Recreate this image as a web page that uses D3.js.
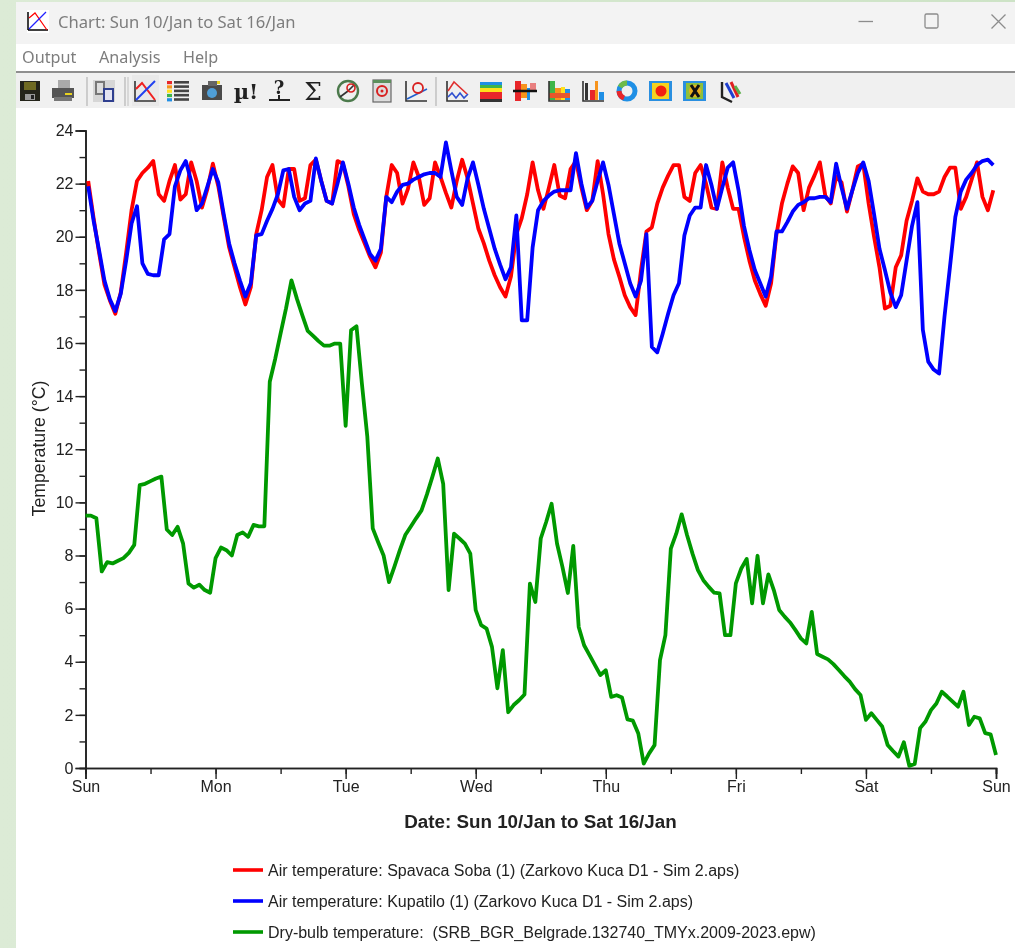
<!DOCTYPE html>
<html>
<head>
<meta charset="utf-8">
<title>Chart: Sun 10/Jan to Sat 16/Jan</title>
<script src="https://cdn.jsdelivr.net/npm/d3@7"></script>
<style>
  html, body { margin: 0; padding: 0; background: #fff; overflow: hidden; }
  svg { display: block; }
  #visualisation { filter: blur(0.55px); }
  .ui { font-family: "Noto Sans", "Open Sans", sans-serif; fill: #7d7d7d; }
  .chart-text { font-family: "Liberation Sans", Arial, sans-serif; fill: #222; }
</style>
</head>
<body>
<svg id="visualisation" width="1015" height="948"></svg>
<script>
const WIDTH = 1015
const HEIGHT = 948

const titleText = 'Chart: Sun 10/Jan to Sat 16/Jan'
const menuItems = ['Output', 'Analysis', 'Help']
const dayLabels = ['Sun', 'Mon', 'Tue', 'Wed', 'Thu', 'Fri', 'Sat', 'Sun']
const xTitle = 'Date: Sun 10/Jan to Sat 16/Jan'
const yTitle = 'Temperature (°C)'
const seriesNames = [
  'Air temperature: Spavaca Soba (1) (Zarkovo Kuca D1 - Sim 2.aps)',
  'Air temperature: Kupatilo (1) (Zarkovo Kuca D1 - Sim 2.aps)',
  'Dry-bulb temperature:  (SRB_BGR_Belgrade.132740_TMYx.2009-2023.epw)'
]
const seriesColors = ['#ff0000', '#0000ff', '#009900']

// hourly values, zone temperatures are plotted on the half hour
const spavacaSoba = [
  22.1, 20.7, 19.4, 18.2, 17.6, 17.1, 17.9, 19.4, 21.0, 22.1, 22.4, 22.6,
  22.85, 21.6, 21.35, 22.1, 22.7, 21.4, 21.6, 22.8, 22.1, 21.1, 21.8, 22.75,
  21.9, 20.75, 19.6, 18.85, 18.1, 17.45, 18.1, 20.1, 21.0, 22.25, 22.7, 21.4,
  21.15, 22.55, 22.55, 21.35, 21.45, 22.7, 22.9, 22.1, 21.35, 21.25, 22.85, 22.75,
  21.9, 20.85, 20.25, 19.75, 19.25, 18.85, 19.4, 21.5, 22.7, 22.4, 21.25, 21.8,
  22.8, 22.25, 21.2, 21.45, 22.8, 22.25, 21.65, 21.1, 22.1, 22.9, 22.2, 21.25,
  20.3, 19.75, 19.1, 18.55, 18.1, 17.75, 18.5, 20.1, 20.7, 21.6, 22.8, 21.75,
  21.05, 21.85, 22.7, 21.55, 21.45, 22.55, 22.85, 21.85, 21.0, 21.35, 22.85, 21.6,
  20.1, 19.15, 18.5, 17.8, 17.35, 17.05, 18.75, 20.2, 20.35, 21.25, 21.85, 22.3,
  22.7, 22.7, 21.5, 21.35, 22.4, 22.7, 22.0, 21.1, 21.05, 22.8, 21.85, 21.05,
  21.05, 20.0, 19.1, 18.35, 17.85, 17.4, 18.25, 20.1, 21.25, 22.0, 22.65, 22.4,
  21.0, 21.85, 22.3, 22.8, 21.55, 21.25, 22.25, 22.05, 20.95, 21.75, 22.65, 22.75,
  21.25, 20.0, 18.85, 17.3, 17.4, 18.85, 19.3, 20.6, 21.35, 22.2, 21.7, 21.6,
  21.6, 21.7, 22.25, 22.6, 22.6, 21.05, 21.5, 22.15, 22.8, 21.5, 21.0, 21.75
]
const kupatilo = [
  21.9, 20.6, 19.5, 18.35, 17.65, 17.2, 17.85, 19.1, 20.5, 21.15, 19.0, 18.6,
  18.55, 18.55, 19.9, 20.1, 21.9, 22.5, 22.85, 22.1, 21.0, 21.25, 21.9, 22.55,
  22.05, 20.85, 19.75, 19.0, 18.35, 17.75, 18.25, 20.05, 20.1, 20.6, 21.05, 21.6,
  22.5, 22.55, 21.5, 21.0, 21.25, 21.35, 22.95, 22.1, 21.35, 21.25, 22.0, 22.8,
  22.0, 21.1, 20.45, 19.9, 19.35, 19.1, 19.55, 21.5, 21.3, 21.7, 21.95, 22.0,
  22.15, 22.25, 22.35, 22.4, 22.4, 22.25, 23.55, 22.5, 21.5, 21.2, 22.2, 22.8,
  21.95, 21.05, 20.3, 19.55, 18.95, 18.4, 18.85, 20.8, 16.85, 16.85, 19.6, 21.0,
  21.35, 21.55, 21.7, 21.75, 21.75, 21.75, 23.15, 22.0, 21.1, 21.35, 22.1, 22.8,
  21.95, 20.85, 19.75, 19.0, 18.25, 17.75, 18.35, 20.1, 15.85, 15.65, 16.35, 17.1,
  17.8, 18.25, 20.05, 20.8, 21.1, 21.1, 22.7, 21.95, 21.05, 21.85, 22.6, 22.8,
  21.75, 20.4, 19.5, 18.75, 18.25, 17.75, 18.5, 20.2, 20.2, 20.55, 20.95, 21.2,
  21.3, 21.45, 21.45, 21.5, 21.5, 21.3, 22.75, 21.85, 21.05, 21.75, 22.4, 22.8,
  22.1, 20.85, 19.55, 18.75, 17.9, 17.35, 17.8, 19.1, 20.4, 21.3, 16.5, 15.3,
  15.0, 14.85, 17.0, 18.85, 20.75, 21.7, 22.15, 22.4, 22.7, 22.85, 22.9, 22.7
]
// weather file values sit on the hour, one extra point at the end of the week
const dryBulb = [
  9.5, 9.5, 9.4, 7.4, 7.75, 7.7, 7.8, 7.9, 8.1, 8.4, 10.65, 10.7,
  10.8, 10.9, 10.97, 8.98, 8.77, 9.08, 8.46, 6.95, 6.79, 6.9, 6.7, 6.6,
  7.9, 8.3, 8.2, 8.0, 8.77, 8.87, 8.7, 9.15, 9.1, 9.1, 14.54, 15.4,
  16.36, 17.3, 18.36, 17.67, 17.05, 16.46, 16.27, 16.07, 15.9, 15.9, 15.98, 15.98,
  12.88, 16.48, 16.63, 14.47, 12.47, 9.02, 8.5, 8.0, 7.0, 7.58, 8.2, 8.77,
  9.08, 9.4, 9.7, 10.3, 10.96, 11.65, 10.7, 6.7, 8.82, 8.64, 8.45, 8.07,
  5.94, 5.38, 5.25, 4.56, 3.0, 4.44, 2.1, 2.37, 2.55, 2.77, 6.94, 6.25,
  8.64, 9.26, 9.95, 8.45, 7.57, 6.59, 8.36, 5.31, 4.62, 4.25, 3.87, 3.5,
  3.68, 2.68, 2.74, 2.65, 1.83, 1.78, 1.3, 0.17, 0.55, 0.86, 4.06, 5.0,
  8.26, 8.82, 9.55, 8.76, 8.07, 7.45, 7.07, 6.82, 6.6, 6.57, 5.0, 5.0,
  6.95, 7.51, 7.87, 6.2, 7.99, 6.2, 7.29, 6.7, 5.95, 5.7, 5.48, 5.19,
  4.88, 4.69, 5.88, 4.29, 4.19, 4.09, 3.91, 3.69, 3.46, 3.25, 2.97, 2.75,
  1.81, 2.06, 1.81, 1.56, 0.87, 0.64, 0.43, 0.97, 0.08, 0.15, 1.5, 1.75,
  2.18, 2.43, 2.87, 2.69, 2.5, 2.31, 2.87, 1.62, 1.93, 1.87, 1.31, 1.27,
  0.49
]

const vis = d3.select('#visualisation')

// desktop strip and window
const desk = vis.append('defs').append('linearGradient').attr('id', 'desk')
desk.append('stop').attr('offset', '0%').attr('stop-color', '#dcebd6')
desk.append('stop').attr('offset', '100%').attr('stop-color', '#cde3c6')
vis.append('rect').attr('width', WIDTH).attr('height', HEIGHT).attr('fill', 'url(#desk)')
vis.append('rect').attr('x', 16).attr('y', 2).attr('width', WIDTH - 16).attr('height', HEIGHT - 2).attr('fill', '#fff')
vis.append('rect').attr('x', 16).attr('y', 2).attr('width', WIDTH - 16).attr('height', 42).attr('fill', '#f3f3f3')
vis.append('rect').attr('x', 16).attr('y', 71).attr('width', WIDTH - 16).attr('height', 2).attr('fill', '#8f8f8f')
vis.append('rect').attr('x', 16).attr('y', 73).attr('width', WIDTH - 16).attr('height', 35).attr('fill', '#f0f0f0')

// title bar
const appIcon = vis.append('g').attr('transform', 'translate(27,10)')
appIcon.append('rect').attr('width', 22).attr('height', 23).attr('fill', '#fff')
appIcon.append('path').attr('d', 'M1,20 V2 M1,20 H21').attr('stroke', '#000').attr('stroke-width', 1.5).attr('fill', 'none')
appIcon.append('path').attr('d', 'M2,8 L8,3 L20,20').attr('stroke', '#f00').attr('stroke-width', 1.2).attr('fill', 'none')
appIcon.append('path').attr('d', 'M2,19 L19,2').attr('stroke', '#22f').attr('stroke-width', 1.2).attr('fill', 'none')
vis.append('text').attr('class', 'ui').attr('x', 58).attr('y', 28).attr('font-size', 16.6).text(titleText)

vis.append('path').attr('d', 'M858.5,21.5 H873').attr('stroke', '#8c8c8c').attr('stroke-width', 1.3)
vis.append('rect').attr('x', 925).attr('y', 14).attr('width', 13).attr('height', 14).attr('rx', 1.5)
  .attr('fill', 'none').attr('stroke', '#8c8c8c').attr('stroke-width', 1.3)
vis.append('path').attr('d', 'M991.5,14.5 L1005.5,28.5 M1005.5,14.5 L991.5,28.5').attr('stroke', '#8c8c8c').attr('stroke-width', 1.3)

// menu
const menuX = [22, 99, 183]
vis.selectAll('.menu').data(menuItems).join('text')
  .attr('class', 'ui menu')
  .attr('x', (d, i) => menuX[i]).attr('y', 63).attr('font-size', 16.2)
  .text(d => d)

// toolbar, icons are rough little drawings
const rainbow = ['#e8262a', '#f7941d', '#ffe11a', '#3fb54a', '#1f8fe5']
function tool(x, draw) {
  const g = vis.append('g').attr('transform', `translate(${x},91)`).attr('fill', 'none').attr('stroke-width', 1.6)
  draw(g)
}
const pth = (g, d, c, w) => g.append('path').attr('d', d).attr('stroke', c).attr('stroke-width', w || 1.6)
const box = (g, x, y, w, h, c) => g.append('rect').attr('x', x).attr('y', y).attr('width', w).attr('height', h).attr('fill', c)
const axes = g => pth(g, 'M-10,-10 V10 H11', '#333', 1.6)

vis.append('rect').attr('x', 132).attr('y', 75).attr('width', 27).attr('height', 31).attr('fill', '#e9e9e9')
;[[87, '#b5b5b5'], [125, '#b5b5b5'], [128, '#c8c8c8'], [436, '#b5b5b5']].forEach(s => {
  vis.append('path').attr('d', `M${s[0]},77 V106`).attr('stroke', s[1]).attr('stroke-width', 1.2)
})

tool(30, g => {
  box(g, -10, -10, 20, 20, '#24241a')
  box(g, -6, -9, 12, 8, '#6f6a22')
  box(g, -5, 3, 10, 6, '#999')
  box(g, 1, 4, 3, 4, '#222')
})
tool(63, g => {
  box(g, -5, -11, 12, 8, '#aaa')
  box(g, -11, -3, 22, 10, '#555')
  box(g, -9, 6, 18, 4, '#777')
  box(g, 2, 2, 7, 2, '#e9d21f')
})
tool(104, g => {
  box(g, -11, -11, 22, 22, '#d6d6d6')
  box(g, -9, -10, 10, 14, '#777')
  box(g, -7, -8, 6, 10, '#ddd')
  box(g, -1, -3, 11, 14, '#2f3f8f')
  box(g, 1, -1, 7, 10, '#e4e4f2')
})
tool(145, g => {
  axes(g)
  pth(g, 'M-9,-2 L-3,-8 L10,9', '#f02020', 2)
  pth(g, 'M-9,9 L10,-10', '#2040f0', 2)
})
tool(178, g => {
  rainbow.forEach((c, i) => {
    box(g, -11, -10 + i * 4.3, 5, 3.2, c)
    box(g, -4, -10 + i * 4.3, 15, 2.6, '#444')
  })
})
tool(212, g => {
  box(g, -10, -6, 20, 15, '#4a4a4a')
  box(g, -4, -10, 9, 5, '#666')
  g.append('circle').attr('cx', 0).attr('cy', 2).attr('r', 5).attr('fill', '#4f9fd8')
  box(g, 5, -10, 3, 3, '#e8d21f')
})
tool(246, g => {
  g.append('text').attr('text-anchor', 'middle').attr('y', 8).attr('font-size', 21).attr('font-weight', 700)
    .attr('font-family', 'DejaVu Serif').attr('fill', '#222').text('µ!')
})
tool(279, g => {
  g.append('text').attr('text-anchor', 'middle').attr('y', 3).attr('font-size', 18).attr('font-weight', 700)
    .attr('font-family', 'DejaVu Serif').attr('fill', '#222').text('?')
  pth(g, 'M-10,9 H11', '#222', 2)
  pth(g, 'M0,4 V9', '#222', 2)
})
tool(313, g => {
  g.append('text').attr('text-anchor', 'middle').attr('y', 9).attr('font-size', 25)
    .attr('font-family', 'DejaVu Serif').attr('fill', '#222').text('Σ')
})
tool(348, g => {
  g.append('circle').attr('r', 10).attr('stroke', '#4c7a4c').attr('stroke-width', 2.4)
  pth(g, 'M0,0 L6,-6 M0,0 L-8,6', '#333', 1.6)
  g.append('circle').attr('cx', 3).attr('cy', -3).attr('r', 4).attr('stroke', '#d82020').attr('stroke-width', 1.6)
})
tool(382, g => {
  box(g, -9, -11, 18, 22, '#ddd').attr('stroke', '#666').attr('stroke-width', 1.2)
  box(g, -9, -11, 18, 3, '#5c8f5c')
  g.append('circle').attr('r', 5).attr('stroke', '#d82020').attr('stroke-width', 2)
  g.append('circle').attr('r', 1.5).attr('fill', '#d82020')
})
tool(416, g => {
  axes(g)
  pth(g, 'M-9,8 L11,-2', '#2060d0', 1.6)
  g.append('circle').attr('cx', 2).attr('cy', -3).attr('r', 5).attr('stroke', '#d82020').attr('stroke-width', 1.8)
})
tool(457, g => {
  axes(g)
  pth(g, 'M-9,0 L-3,-9 L10,3', '#e03030', 1.6)
  pth(g, 'M-9,6 L-5,2 L-1,7 L3,2 L7,7 L11,3', '#3050d0', 1.6)
})
tool(491, g => {
  box(g, -11, -9, 22, 20, '#1f8fe5')
  box(g, -11, -6, 22, 16, '#3fb54a')
  box(g, -11, -3, 22, 12, '#ffe11a')
  box(g, -11, 1, 22, 7, '#e8262a')
  box(g, -11, 8, 22, 3, '#333')
})
tool(525, g => {
  box(g, -10, -10, 6, 20, '#e8262a')
  box(g, -4, -7, 6, 14, '#f7941d')
  box(g, 2, -3, 3, 12, '#1f8fe5')
  box(g, 5, -8, 6, 8, '#e98080')
  pth(g, 'M-12,0 H12', '#111', 2.5)
})
tool(559, g => {
  box(g, -10, -10, 6, 19, '#3fb54a')
  box(g, -4, -3, 6, 12, '#f7941d')
  box(g, 2, -4, 4, 13, '#ffe11a')
  box(g, 6, -2, 5, 11, '#1f8fe5')
  box(g, -10, 2, 21, 5, '#e8562a')
  pth(g, 'M-10,-10 V10 H11', '#333', 1.6)
})
tool(593, g => {
  box(g, -8, -8, 3, 17, '#333')
  box(g, -3, -1, 5, 10, '#e8262a')
  box(g, 2, -10, 3, 19, '#f7941d')
  box(g, 6, 1, 5, 8, '#1f8fe5')
  pth(g, 'M-10,-10 V10 H11', '#333', 1.6)
})
tool(627, g => {
  g.append('circle').attr('r', 8).attr('stroke', '#1f8fe5').attr('stroke-width', 5)
  g.append('path').attr('d', 'M-8,0 A8,8 0 0 0 -3,7').attr('stroke', '#e8262a').attr('stroke-width', 5)
  g.append('path').attr('d', 'M-7,-4 A8,8 0 0 1 0,-8').attr('stroke', '#6dbb4a').attr('stroke-width', 5)
})
tool(661, g => {
  box(g, -12, -10, 23, 20, '#2a8fe0')
  box(g, -9, -8, 17, 16, '#f4d21f')
  g.append('circle').attr('r', 5.5).attr('fill', '#f02010')
})
tool(695, g => {
  box(g, -12, -10, 23, 20, '#2a8fe0')
  box(g, -9, -8, 17, 16, '#8fbf3a')
  g.append('circle').attr('r', 6).attr('fill', '#e8b01f')
  pth(g, 'M-4,-6 L4,6 M4,-6 L-4,6', '#111', 3)
})
tool(729, g => {
  pth(g, 'M-7,-9 V6 L3,11', '#222', 2.4)
  pth(g, 'M-3,-8 L5,7', '#2040d0', 3)
  pth(g, 'M2,-9 L9,6', '#e02020', 3)
  pth(g, 'M6,-5 L11,3', '#5cb04a', 3)
})

// scales, hours since Sunday midnight
const xScale = d3.scaleLinear().domain([0, 168]).range([85.5, 996])
const yScale = d3.scaleLinear().domain([0, 24]).range([768, 130.5])

// y axis
const yAxisMinor = d3.axisLeft(yScale).tickValues(d3.range(0, 25, 1)).tickSize(6).tickFormat('')
vis.append('g').attr('transform', 'translate(85.5,0)').call(yAxisMinor)
const yAxis = d3.axisLeft(yScale).tickValues(d3.range(0, 25, 2)).tickSize(10).tickPadding(2).tickFormat(d => d)
const yG = vis.append('g').attr('transform', 'translate(85.5,0)').call(yAxis)

// x axis
const xAxisMinor = d3.axisBottom(xScale).tickValues(d3.range(0, 169, 12)).tickSize(6).tickFormat('')
vis.append('g').attr('transform', 'translate(0,768)').call(xAxisMinor)
const xAxis = d3.axisBottom(xScale).tickValues(d3.range(0, 169, 24)).tickSize(11).tickPadding(2)
  .tickFormat((d, i) => dayLabels[i])
const xG = vis.append('g').attr('transform', 'translate(0,768)').call(xAxis)

vis.selectAll('.domain').attr('stroke', '#222').attr('stroke-width', 1.6)
vis.selectAll('.tick line').attr('stroke', '#222').attr('stroke-width', 1.4)
;[yG, xG].forEach(g => {
  g.selectAll('text').attr('class', 'chart-text').attr('font-size', 16).attr('fill', null)
})

vis.append('text').attr('class', 'chart-text')
  .attr('transform', 'translate(45,448.5) rotate(-90)').attr('text-anchor', 'middle')
  .attr('font-size', 17.7).text(yTitle)
vis.append('text').attr('class', 'chart-text')
  .attr('x', 540.5).attr('y', 828).attr('text-anchor', 'middle')
  .attr('font-size', 18.8).attr('font-weight', 700).text(xTitle)

// lines
const lineGen = d3.line().x(d => xScale(d[0])).y(d => yScale(d[1]))
const onHalfHour = arr => arr.map((v, i) => [i + 0.5, v])
const onHour = arr => arr.map((v, i) => [i, v])

const plotted = [onHalfHour(spavacaSoba), onHalfHour(kupatilo), onHour(dryBulb)]
;[2, 0, 1].forEach(k => {
  vis.append('path')
    .attr('d', lineGen(plotted[k]))
    .attr('fill', 'none')
    .attr('stroke', seriesColors[k])
    .attr('stroke-width', 3.8)
    .attr('stroke-linejoin', 'round')
})

// legend
const legendY = d3.scalePoint().domain(d3.range(seriesNames.length)).range([870, 932])
seriesNames.forEach((name, i) => {
  vis.append('path')
    .attr('d', `M233,${legendY(i)} H263`)
    .attr('stroke', seriesColors[i]).attr('stroke-width', 3.6)
  vis.append('text').attr('class', 'chart-text')
    .attr('x', 268).attr('y', legendY(i) + 5.5)
    .attr('font-size', 16).style('white-space', 'pre')
    .text(name)
})
</script>
</body>
</html>
